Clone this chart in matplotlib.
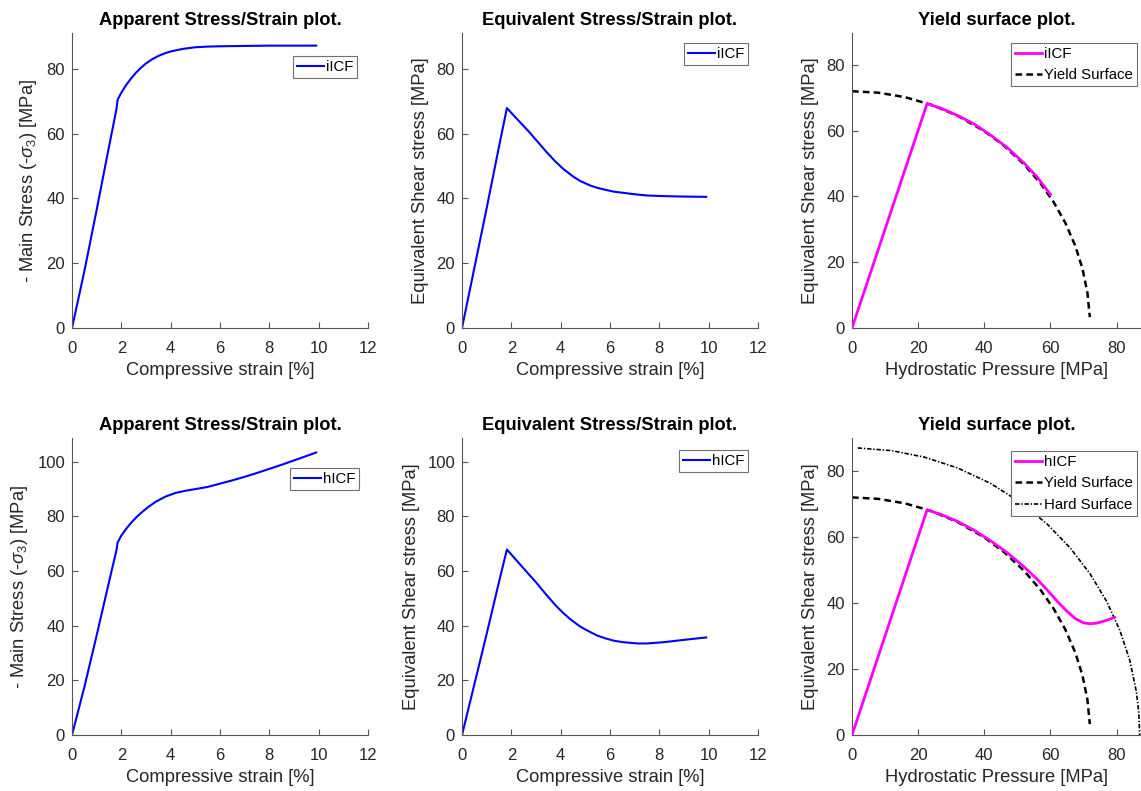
import matplotlib
matplotlib.use("Agg")
import matplotlib.pyplot as plt

plt.rcParams["font.family"] = ["Liberation Sans", "DejaVu Sans"]
plt.rcParams["mathtext.fontset"] = "custom"
plt.rcParams["mathtext.rm"] = "Liberation Sans"
plt.rcParams["mathtext.it"] = "Liberation Sans:italic"
plt.rcParams["lines.scale_dashes"] = False

# --- iICF: apparent (main) stress vs compressive strain
strain_app_i = [0, 0.5, 1.0, 1.5, 1.8, 1.85, 2.0, 2.2, 2.4, 2.6, 2.8, 3.0, 3.25, 3.5,
                3.75, 4.0, 4.5, 5.0, 5.5, 6.0, 7.0, 8.0, 9.0, 9.9]
stress_app_i = [0, 17.5, 36.5, 56.0, 67.5, 70.5, 72.7, 75.1, 77.1, 78.9, 80.4, 81.7, 83.0,
                84.0, 84.8, 85.4, 86.2, 86.7, 86.9, 87.0, 87.1, 87.2, 87.2, 87.2]

# --- hICF: apparent (main) stress vs compressive strain
strain_app_h = [0, 0.5, 1.0, 1.5, 1.8, 1.85, 2.0, 2.2, 2.4, 2.6, 2.8, 3.1, 3.4, 3.8,
                4.2, 4.6, 5.0, 5.5, 6.0, 6.5, 7.0, 7.5, 8.0, 8.5, 9.0, 9.5, 9.9]
stress_app_h = [0, 17.5, 36.5, 56.0, 67.5, 70.5, 73.0, 75.5, 77.7, 79.6, 81.3, 83.5, 85.4,
                87.3, 88.6, 89.4, 90.0, 90.8, 92.0, 93.2, 94.5, 95.9, 97.4, 98.9, 100.5,
                102.1, 103.4]

# --- equivalent shear stress vs compressive strain
strain_eq_i = [0, 0.5, 1.0, 1.5, 1.82, 2.2, 2.74, 3.0, 3.42, 3.8, 4.11, 4.5, 4.79, 5.2,
               5.48, 5.8, 6.16, 7.0, 7.53, 8.3, 8.9, 9.9]
shear_eq_i = [0, 18.5, 37.0, 56.0, 67.9, 64.8, 60.4, 58.1, 54.4, 51.3, 49.1, 46.8, 45.4,
              44.0, 43.3, 42.7, 42.1, 41.3, 40.9, 40.7, 40.6, 40.5]

strain_eq_h = [0, 0.5, 1.0, 1.5, 1.82, 2.2, 2.74, 3.0, 3.42, 3.8, 4.11, 4.4, 4.79, 5.0,
               5.48, 5.8, 6.16, 6.5, 7.12, 7.5, 8.22, 8.5, 9.18, 9.9]
shear_eq_h = [0, 18.5, 37.0, 56.0, 67.9, 64.0, 58.5, 55.9, 51.3, 47.4, 44.6, 42.3, 39.7,
              38.6, 36.4, 35.4, 34.5, 34.0, 33.5, 33.5, 34.0, 34.3, 35.0, 35.7]

# --- yield surface plane: hydrostatic pressure vs equivalent shear stress
pres_i = [0, 22.7, 27, 32, 37, 42, 47, 52, 56, 60]
shear_i = [0, 68.2, 66.8, 64.6, 62.0, 58.6, 54.8, 50.2, 45.9, 40.6]

pres_h = [0, 22.7, 27, 32, 37, 42, 47, 52, 56, 59, 62, 65, 67.5, 70, 72, 74, 76.5, 79.4]
shear_h = [0, 68.2, 66.8, 64.7, 62.0, 58.8, 55.2, 51.0, 47.2, 44.0, 40.6, 37.5, 35.3,
           34.0, 33.7, 33.9, 34.6, 35.6]

yield_p = [0, 8, 16, 24, 32, 40, 46, 52, 57, 61, 64.5, 67.5, 69.7, 71.2, 71.92]
yield_q = [72.0, 71.55, 70.2, 67.88, 64.5, 59.87, 55.39, 49.8, 43.99, 38.25, 32.0,
           25.05, 18.05, 10.7, 3.3]

hard_p = [1.7, 12, 22, 32, 42, 51, 59, 66, 72, 77, 81, 84, 86, 86.75, 87]
hard_q = [86.98, 86.17, 84.17, 80.9, 76.19, 70.48, 63.94, 56.68, 48.84, 40.5, 31.75,
          22.65, 13.15, 6.6, 0]

W, H = 1141, 791
AX_COLOR = "#262626"
BLUE = (0, 0, 1)
MAGENTA = (1, 0, 1)

fig = plt.figure(figsize=(W / 100, H / 100), dpi=100)


def make_axes(left, right, top, bottom):
    ax = fig.add_axes([left / W, 1 - bottom / H, (right - left) / W, (bottom - top) / H])
    for side in ("top", "right"):
        ax.spines[side].set_visible(False)
    for side in ("left", "bottom"):
        ax.spines[side].set_color("#555555")
        ax.spines[side].set_linewidth(0.8)
    ax.tick_params(direction="in", length=4, width=0.8, color="#555555",
                   labelsize=12, labelcolor=AX_COLOR)
    ax.tick_params(axis="x", pad=9)
    ax.tick_params(axis="y", pad=5)
    return ax


def style(ax, title, xlabel, ylabel):
    ax.set_title(title, fontsize=13.2, fontweight="bold", pad=5.5)
    ax.set_xlabel(xlabel, fontsize=13.2, color=AX_COLOR, labelpad=5)
    ax.set_ylabel(ylabel, fontsize=13.2, color=AX_COLOR, labelpad=5)


def add_legend(ax, dx, dy, w, h):
    leg = ax.legend(loc="upper right", bbox_to_anchor=(1 - dx / w, 1 - dy / h),
                    borderaxespad=0, fontsize=10.8, handlelength=1.8,
                    handletextpad=0.15, borderpad=0.25, labelspacing=0.5,
                    fancybox=False, framealpha=1)
    leg.get_frame().set_edgecolor("#707070")
    leg.get_frame().set_linewidth(0.8)


strain_label = "Compressive strain [%]"
main_label = r"- Main Stress (-$\sigma_3$) [MPa]"
shear_label = "Equivalent Shear stress [MPa]"
pres_label = "Hydrostatic Pressure [MPa]"

rows = [
    (33, 328, "iICF", strain_app_i, stress_app_i, strain_eq_i, shear_eq_i,
     pres_i, shear_i, 91.1, 89.7, False),
    (438, 735, "hICF", strain_app_h, stress_app_h, strain_eq_h, shear_eq_h,
     pres_h, shear_h, 108.7, 90.0, True),
]
legend_offsets = {
    ("iICF", 0): (11, 23), ("iICF", 1): (10, 10), ("iICF", 2): (4, 10),
    ("hICF", 0): (9, 30), ("hICF", 1): (10, 12), ("hICF", 2): (4, 13),
}

for top, bottom, name, sx, sy, ex, ey, px, py, ymax, ymax_y, hard in rows:
    h = bottom - top

    # apparent stress
    ax = make_axes(72, 368, top, bottom)
    ax.plot(sx, sy, color=BLUE, lw=1.5, label=name)
    ax.set_xlim(0, 12)
    ax.set_ylim(0, ymax)
    ax.set_xticks(range(0, 13, 2))
    ax.set_yticks(range(0, int(ymax) + 1, 20))
    style(ax, "Apparent Stress/Strain plot.", strain_label, main_label)
    add_legend(ax, *legend_offsets[(name, 0)], 296, h)

    # equivalent stress
    ax = make_axes(462, 758, top, bottom)
    ax.plot(ex, ey, color=BLUE, lw=1.5, label=name)
    ax.set_xlim(0, 12)
    ax.set_ylim(0, ymax)
    ax.set_xticks(range(0, 13, 2))
    ax.set_yticks(range(0, int(ymax) + 1, 20))
    style(ax, "Equivalent Stress/Strain plot.", strain_label, shear_label)
    add_legend(ax, *legend_offsets[(name, 1)], 296, h)

    # yield surface
    ax = make_axes(852, 1141, top, bottom)
    ax.plot(px, py, color=MAGENTA, lw=2.0, label=name, zorder=3)
    ax.plot(yield_p, yield_q, color="black", lw=1.8, dashes=(4.8, 3.0),
            label="Yield Surface", zorder=2)
    if hard:
        ax.plot(hard_p, hard_q, color="black", lw=1.2, dashes=(3.2, 1.3, 1.0, 1.3),
                label="Hard Surface", zorder=2)
    ax.set_xlim(0, 87.4)
    ax.set_ylim(0, ymax_y)
    ax.set_xticks(range(0, 81, 20))
    ax.set_yticks(range(0, 81, 20))
    style(ax, "Yield surface plot.", pres_label, shear_label)
    add_legend(ax, *legend_offsets[(name, 2)], 289, h)

fig.savefig("out.png", dpi=100, facecolor="white")
